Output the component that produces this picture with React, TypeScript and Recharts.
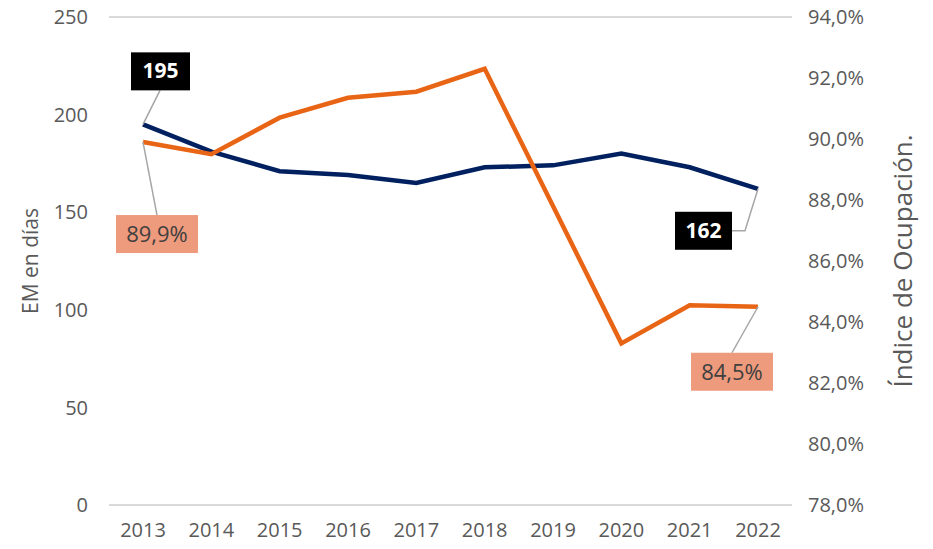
import React from 'react';
import { LineChart, Line, XAxis, YAxis, CartesianGrid } from 'recharts';

const years = ['2013', '2014', '2015', '2016', '2017', '2018', '2019', '2020', '2021', '2022'];
// estancia media (días), eje izquierdo
const emDias = [195, 181, 171, 169, 165, 173, 174, 180, 173, 162];
// índice de ocupación (%), eje derecho
const ocupacion = [89.9, 89.5, 90.7, 91.35, 91.55, 92.3, 87.8, 83.3, 84.55, 84.5];

const leftTicks = [0, 50, 100, 150, 200, 250];
const rightTicks = [78, 80, 82, 84, 86, 88, 90, 92, 94];

const NAVY = '#002060';
const ORANGE = '#E96516';
const FONT = '"Open Sans", sans-serif';

const data = years.map((year, i) => ({ year, em: emDias[i], occ: ocupacion[i] }));

const fmtPct = (v: number) => `${v.toFixed(1).replace('.', ',')}%`;

const EmLabel = (props: any) => {
  const { x, y, index, value } = props;
  const last = emDias.length - 1;
  if (index !== 0 && index !== last) return null;
  if (index === 0) {
    return (
      <g>
        <line x1={x} y1={y} x2={x + 17} y2={y - 34} stroke="#a6a6a6" strokeWidth={1.5} />
        <rect x={x - 12} y={y - 72} width={59} height={38} fill="#000" />
        <text x={x + 17.5} y={y - 46} textAnchor="middle" fill="#fff" fontSize={21} fontWeight="bold" fontFamily={FONT}>
          {value}
        </text>
      </g>
    );
  }
  return (
    <g>
      <polyline points={`${x},${y} ${x - 13},${y + 42} ${x - 26},${y + 42}`} fill="none" stroke="#a6a6a6" strokeWidth={1.5} />
      <rect x={x - 83} y={y + 23} width={57} height={38} fill="#000" />
      <text x={x - 54.5} y={y + 49} textAnchor="middle" fill="#fff" fontSize={21} fontWeight="bold" fontFamily={FONT}>
        {value}
      </text>
    </g>
  );
};

const OccLabel = (props: any) => {
  const { x, y, index, value } = props;
  const last = ocupacion.length - 1;
  if (index !== 0 && index !== last) return null;
  if (index === 0) {
    return (
      <g>
        <line x1={x} y1={y} x2={x + 14} y2={y + 73} stroke="#a6a6a6" strokeWidth={1.5} />
        <rect x={x - 27} y={y + 73} width={82} height={38} fill="#EE9A7C" />
        <text x={x + 14} y={y + 100} textAnchor="middle" fill="#404040" fontSize={22} fontFamily={FONT}>
          {fmtPct(value)}
        </text>
      </g>
    );
  }
  return (
    <g>
      <line x1={x} y1={y} x2={x - 26} y2={y + 46} stroke="#a6a6a6" strokeWidth={1.5} />
      <rect x={x - 67} y={y + 46} width={82} height={38} fill="#EE9A7C" />
      <text x={x - 26} y={y + 73} textAnchor="middle" fill="#404040" fontSize={22} fontFamily={FONT}>
        {fmtPct(value)}
      </text>
    </g>
  );
};

export default function App() {
  const tick = { fill: '#595959', fontSize: 20, fontFamily: FONT };
  return (
    <div style={{ position: 'absolute', left: 0, top: 0, background: '#fff' }}>
      <LineChart width={933} height={549} data={data} margin={{ top: 17, right: 0, bottom: 0, left: 0 }}>
        <CartesianGrid vertical={false} stroke="#d9d9d9" strokeWidth={2} />
        <XAxis
          dataKey="year"
          axisLine={false}
          tickLine={false}
          tickSize={0}
          tickMargin={18}
          height={44}
          tick={tick}
          interval={0}
          padding={{ left: 34, right: 34 }}
        />
        <YAxis
          yAxisId="left"
          domain={[0, 250]}
          ticks={leftTicks}
          axisLine={false}
          tickLine={false}
          tickSize={0}
          tickMargin={21}
          width={109}
          tick={tick}
          label={{ value: 'EM en días', angle: -90, position: 'center', dx: -24, fill: '#595959', fontSize: 21, fontFamily: FONT }}
        />
        <YAxis
          yAxisId="right"
          orientation="right"
          domain={[78, 94]}
          ticks={rightTicks}
          tickFormatter={fmtPct}
          axisLine={false}
          tickLine={false}
          tickSize={0}
          tickMargin={16}
          width={141}
          tick={tick}
          label={{ value: 'Índice de Ocupación.', angle: -90, position: 'center', dx: 40, fill: '#595959', fontSize: 26, fontFamily: FONT }}
        />
        <Line
          yAxisId="left"
          dataKey="em"
          stroke={NAVY}
          strokeWidth={4.5}
          dot={false}
          isAnimationActive={false}
          label={<EmLabel />}
        />
        <Line
          yAxisId="right"
          dataKey="occ"
          stroke={ORANGE}
          strokeWidth={4.5}
          dot={false}
          isAnimationActive={false}
          label={<OccLabel />}
        />
      </LineChart>
    </div>
  );
}
